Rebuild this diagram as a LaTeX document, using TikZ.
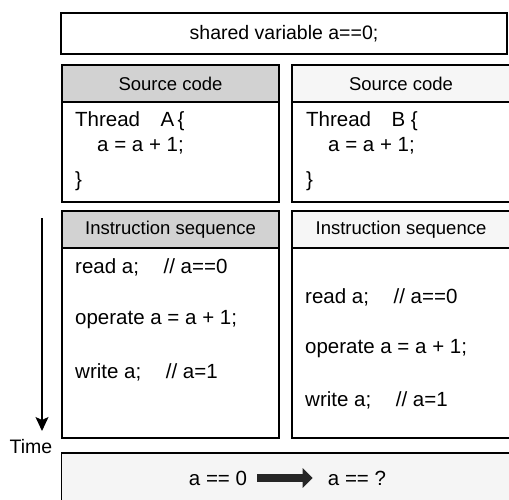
\documentclass[tikz,border=0pt]{standalone}
\usepackage{fontspec}
\setmainfont{Liberation Sans}
\usetikzlibrary{arrows.meta}
\tikzset{
  box/.style={draw, line width=1.4pt, inner sep=0pt, outer sep=0pt},
  heada/.style={box, fill=gray!35, font=\fontsize{18.5}{22}\selectfont},
  headb/.style={box, fill=gray!7, font=\fontsize{18.5}{22}\selectfont},
  line/.style={anchor=west, inner sep=0pt, font=\fontsize{20.5}{24}\selectfont},
  fat/.style={line width=8pt, black!85, -{Triangle[length=10pt,width=19pt]}},
}
\begin{document}
\begin{tikzpicture}[x=1pt,y=-1pt]
  \useasboundingbox (0,0) rectangle (509,499);
  % shared variable
  \node[box, minimum width=446pt, minimum height=41pt,
        font=\fontsize{19.5}{23}\selectfont] (sv) at (284,33.5) {shared variable a==0;};
  % thread A
  \node[heada, minimum width=217pt, minimum height=37pt] (sa) at (170.5,83.5) {Source code};
  \node[box, minimum width=217pt, minimum height=100pt, anchor=north] (ca) at (sa.south) {};
  \node[heada, minimum width=217pt, minimum height=37pt] (ia) at (170.5,229.5) {Instruction sequence};
  \node[box, minimum width=217pt, minimum height=190pt, anchor=north] (qa) at (ia.south) {};
  % thread B
  \node[headb, minimum width=218pt, minimum height=37pt] (sb) at (401,83.5) {Source code};
  \node[box, minimum width=218pt, minimum height=100pt, anchor=north] (cb) at (sb.south) {};
  \node[headb, minimum width=218pt, minimum height=37pt] (ib) at (401,229.5) {Instruction sequence};
  \node[box, minimum width=218pt, minimum height=190pt, anchor=north] (qb) at (ib.south) {};
  % source lines
  \node[line] (a1) at (75,121) {Thread\quad A\,\{};
  \node[line] (a2) at (97,146) {a = a + 1;};
  \node[line] (a3) at (75,181) {\}};
  \node[line] (b1) at (306,121) {Thread\quad B \{};
  \node[line] (b2) at (328,146) {a = a + 1;};
  \node[line] (b3) at (306,181) {\}};
  % instruction lines
  \node[line] (ra) at (75,267) {read a;\hspace{1.2em}// a==0};
  \node[line] (oa) at (75,320) {operate a = a + 1;};
  \node[line] (wa) at (75,372) {write a;\hspace{1.2em}// a=1};
  \node[line] (rb) at (305,297) {read a;\hspace{1.2em}// a==0};
  \node[line] (ob) at (305,349) {operate a = a + 1;};
  \node[line] (wb) at (305,400) {write a;\hspace{1.2em}// a=1};
  % time axis
  \coordinate (t0) at (42,218);
  \coordinate (t1) at (42,431);
  \draw[line width=1.4pt, -{Stealth[length=14pt,width=13pt,inset=3pt]}] (t0) -- (t1);
  \node[line, anchor=center, font=\fontsize{19.5}{23}\selectfont] (time) at (31,447) {Time};
  % result
  \node[box, fill=gray!8, minimum width=454pt, minimum height=52pt, anchor=north west] (res) at (61.5,453) {};
  \draw[line width=2.6pt] (res.north west) -- (res.north east);
  \node[line, anchor=center] (r0) at (218,478) {a == 0};
  \node[line, anchor=center] (r1) at (357,478) {a == ?};
  \draw[fat, shorten <=10pt, shorten >=15pt] (r0) -- (r1);
\end{tikzpicture}
\end{document}
